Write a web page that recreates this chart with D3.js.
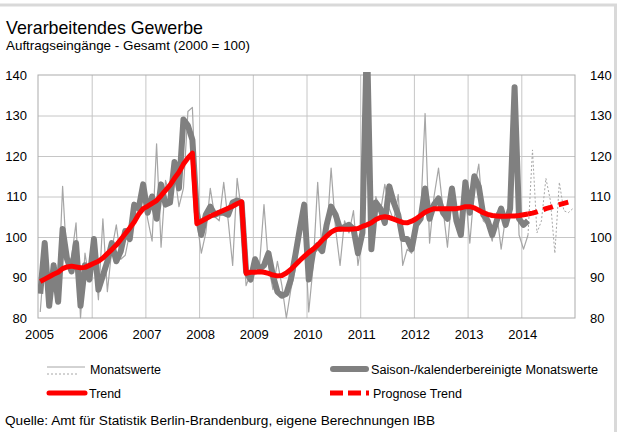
<!DOCTYPE html>
<html>
<head>
<meta charset="utf-8">
<script src="https://cdn.jsdelivr.net/npm/d3@7"></script>
<style>
   body { margin: 0; background: #fff; }
   svg { display: block; font-family: "Liberation Sans", Arial, sans-serif; }
</style>
</head>
<body>
<svg id="chart" width="618" height="432"></svg>
<script>
const years = [ '2005', '2006', '2007', '2008', '2009', '2010', '2011', '2012', '2013', '2014' ];
const yTicks = [ 80, 90, 100, 110, 120, 130, 140 ];

// monthly values Jan 2005 .. Feb 2014
const monatswerte = [
   81.5, 96, 85, 93.5, 86, 112.5, 93, 95, 103.5, 80, 96, 89,
   97, 84.5, 104.5, 86.5, 97, 103, 94.5, 95.5, 101, 108.5, 106, 111,
   104.5, 99, 123, 97.5, 114, 110, 116, 107.5, 112, 131, 132, 104,
   96, 101, 112, 105, 104, 113.5, 104, 93, 114.5, 106, 88, 91,
   92, 93, 108, 93, 87, 94, 88, 80, 87, 92, 100, 104,
   81.5, 93, 113.5, 96, 100, 117, 102, 93, 104, 101, 106.5, 93,
   100, 142, 99, 110, 106, 113, 107, 104, 110.5, 93, 97, 96,
   102, 105, 130.5, 98.5, 110, 117, 107, 97.5, 110, 103, 101.5, 111,
   98.5, 112, 118, 104, 103, 99, 106, 97, 105, 105, 134, 100.5,
   97, 100.5
];
const saisonbereinigt = [
   86, 98.5, 83, 93, 84, 102, 94.5, 91.5, 98.5, 83, 93, 89.5,
   99.5, 87, 90.5, 94, 98.5, 94, 96.5, 101.5, 99.5, 108, 107, 113,
   106, 110, 104.5, 113, 108, 108.5, 118.5, 112, 129, 127.5, 124, 106,
   100.5, 105.5, 107.5, 105.5, 106, 106, 105.5, 108.5, 109, 108.5, 91.5, 89.5,
   94.5, 92, 93, 96, 90.5, 86.5, 85.5, 86, 89.5, 95.5, 102, 108,
   89.5, 96.5, 98, 96.5, 103, 107.5, 105.5, 102, 102.5, 103, 102, 96,
   101, 150, 97, 108.5, 107, 103.5, 112.5, 108.5, 105.5, 99.5, 99.5, 97,
   103, 104.5, 112, 104.5, 108, 109.5, 106, 104.5, 112, 104, 100.5, 113.5,
   106, 115, 112.5, 105.5, 104, 100.5, 104, 107, 103, 107, 137, 104.5,
   103, 104
];
const trend = [
   89, 89.6, 90.2, 90.8, 91.3, 92.2, 92.6, 92.8, 92.6, 92.4, 92.5, 93,
   93.5, 94, 94.8, 95.9, 96.9, 98, 99.4, 100.8, 102.2, 103.7, 105.6, 107,
   107.6, 108.3, 109, 110.2, 111.5, 112.8, 114.5, 116, 118, 119.5, 120.7, 103.3,
   103.9, 104.5, 105.1, 105.6, 106.1, 106.6, 107.1, 107.6, 108.2, 108.7, 91, 91.3,
   91.3, 91.4, 91.3, 91, 90.6, 90.4, 90.5, 91.1, 92, 93.1, 94.2, 95.2,
   96.2, 97, 98, 99.2, 100.2, 101.2, 101.8, 102, 101.9, 101.9, 102, 102.1,
   102.6, 103, 103.5, 104.3, 104.8, 105, 104.8, 104.4, 104, 103.6, 103.5, 103.9,
   104.5, 105.3, 106.1, 106.6, 107, 107, 107, 107, 107, 107, 107.2, 107.5,
   107.5, 107.2, 106.6, 106, 105.6, 105.3, 105.2, 105.1, 105.1, 105.2, 105.2, 105.3,
   105.5, 105.7
];

// forecast Feb 2014 .. Dec 2014
const prognoseStart = 109;
const prognoseMonatswerte = [ 100.5, 121.5, 101, 104, 114.5, 109, 96, 113.5, 106.5, 106, 107 ];
const prognoseTrend = [ 105.7, 105.9, 106.2, 106.6, 107, 107.3, 107.7, 108, 108.3, 108.6, 108.9 ];

const plot = { left: 38, right: 575, top: 75, bottom: 318 };
const grey = '#808080';
const lightGrey = '#a6a6a6';
const red = '#ff0000';

const svg = d3.select( '#chart' );

svg.append( 'rect' )
   .attr( 'x', -5 ).attr( 'y', 5 )
   .attr( 'width', 620.5 ).attr( 'height', 440 )
   .attr( 'fill', 'none' )
   .attr( 'stroke', '#d9d9d9' )
   .attr( 'stroke-width', 3 );

// text with a fixed width, the original renders its labels a little wide
const label = ( parent, xx, yy, size, width, content ) => parent.append( 'text' )
   .attr( 'x', xx ).attr( 'y', yy )
   .attr( 'textLength', width )
   .attr( 'lengthAdjust', 'spacingAndGlyphs' )
   .style( 'font-size', size )
   .text( content );

label( svg, 6, 34, '17.8px', 197, 'Verarbeitendes Gewerbe' );
label( svg, 6, 50, '13px', 244, 'Auftragseingänge - Gesamt (2000 = 100)' );

const x = d3.scaleLinear().domain( [ 0, 120 ] ).range( [ plot.left, plot.right ] );
const y = d3.scaleLinear().domain( [ 80, 140 ] ).range( [ plot.bottom, plot.top ] );

// grid
svg.append( 'g' )
   .attr( 'transform', `translate(${plot.left},0)` )
   .call( d3.axisLeft( y ).tickValues( yTicks.slice( 1, -1 ) ).tickSize( -( plot.right - plot.left ) ).tickFormat( '' ) )
   .call( g => g.select( '.domain' ).remove() )
   .call( g => g.selectAll( 'line' ).attr( 'stroke', '#c6c6c6' ) );
svg.append( 'g' )
   .attr( 'transform', `translate(0,${plot.bottom})` )
   .call( d3.axisBottom( x ).tickValues( d3.range( 12, 120, 12 ) ).tickSize( -( plot.bottom - plot.top ) ).tickFormat( '' ) )
   .call( g => g.select( '.domain' ).remove() )
   .call( g => g.selectAll( 'line' ).attr( 'stroke', '#c6c6c6' ) );

svg.append( 'rect' )
   .attr( 'x', plot.left ).attr( 'y', plot.top )
   .attr( 'width', plot.right - plot.left ).attr( 'height', plot.bottom - plot.top )
   .attr( 'fill', 'none' )
   .attr( 'stroke', '#ababab' );

// axis labels
const styleLabels = g => {
   g.select( '.domain' ).remove();
   g.selectAll( 'line' ).remove();
   g.selectAll( 'text' ).style( 'font-size', '13px' ).attr( 'fill', '#000' )
      .style( 'font-family', '"Liberation Sans", Arial, sans-serif' );
};
svg.append( 'g' )
   .attr( 'transform', `translate(${plot.left - 8},0)` )
   .call( d3.axisLeft( y ).tickValues( yTicks ).tickSize( 0 ) )
   .call( styleLabels );
svg.append( 'g' )
   .attr( 'transform', `translate(${plot.right + 12},0)` )
   .call( d3.axisRight( y ).tickValues( yTicks ).tickSize( 0 ) )
   .call( styleLabels );
svg.append( 'g' )
   .attr( 'transform', `translate(1,${plot.bottom + 9})` )
   .call( d3.axisBottom( x ).tickValues( d3.range( 0, 120, 12 ) ).tickSize( 0 ).tickFormat( ( d, i ) => years[ i ] ) )
   .call( styleLabels );

// series
svg.append( 'clipPath' ).attr( 'id', 'plot-clip' )
   .append( 'rect' )
   .attr( 'x', plot.left ).attr( 'y', plot.top - 3 )
   .attr( 'width', plot.right - plot.left ).attr( 'height', plot.bottom - plot.top + 6 );

const series = svg.append( 'g' ).attr( 'clip-path', 'url(#plot-clip)' );
const line = d3.line()
   .x( d => x( d.m + 0.5 ) )
   .y( d => y( d.v ) );
const points = ( values, start = 0 ) => values.map( ( v, i ) => ( { m: start + i, v } ) );

const drawLine = ( values, start, stroke, width, dash ) => series.append( 'path' )
   .datum( points( values, start ) )
   .attr( 'd', line )
   .attr( 'fill', 'none' )
   .attr( 'stroke', stroke )
   .attr( 'stroke-width', width )
   .attr( 'stroke-linejoin', 'round' )
   .attr( 'stroke-dasharray', dash );

drawLine( monatswerte, 0, lightGrey, 1.2, null );
drawLine( prognoseMonatswerte, prognoseStart, lightGrey, 1, '2,2' );
drawLine( saisonbereinigt, 0, grey, 6, null );
drawLine( trend, 0, red, 5, null );
drawLine( prognoseTrend, prognoseStart, red, 5, '10,6' );

// legend
const legend = svg.append( 'g' );
const legendLine = ( x1, x2, yy, stroke, width, dash, cap ) => legend.append( 'line' )
   .attr( 'x1', x1 ).attr( 'x2', x2 ).attr( 'y1', yy ).attr( 'y2', yy )
   .attr( 'stroke', stroke ).attr( 'stroke-width', width )
   .attr( 'stroke-dasharray', dash )
   .attr( 'stroke-linecap', cap );

legendLine( 47, 85, 367, lightGrey, 1, null, 'butt' );
legendLine( 47, 79, 374, lightGrey, 1, '2,2', 'butt' );
label( legend, 90, 374, '12.3px', 71, 'Monatswerte' );
legendLine( 333, 366, 369, grey, 6, null, 'round' );
label( legend, 371, 374, '12.3px', 227, 'Saison-/kalenderbereinigte Monatswerte' );
legendLine( 49, 85, 393, red, 5, null, 'round' );
label( legend, 89, 398, '12.3px', 32, 'Trend' );
legendLine( 330, 369, 393, red, 5, '13,5,13,5,3,20', 'butt' );
label( legend, 373, 398, '12.3px', 89, 'Prognose Trend' );

label( svg, 5, 425, '12.3px', 430, 'Quelle: Amt für Statistik Berlin-Brandenburg, eigene Berechnungen IBB' );
</script>
</body>
</html>
